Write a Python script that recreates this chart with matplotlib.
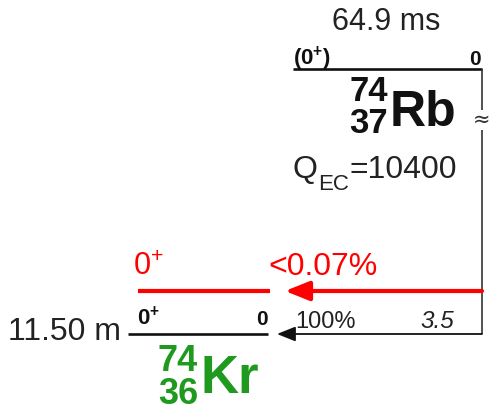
import matplotlib
matplotlib.use("Agg")
import matplotlib.pyplot as plt

plt.rcParams["font.family"] = ["Liberation Sans", "DejaVu Sans"]
plt.rcParams["mathtext.fontset"] = "custom"
plt.rcParams["mathtext.rm"] = "Liberation Sans"
plt.rcParams["mathtext.bf"] = "Liberation Sans:bold"
plt.rcParams["mathtext.it"] = "Liberation Sans:italic"

# ---- decay data: 74Rb -> 74Kr (EC / beta+) ----
parent_symbol = "Rb"
parent_A = 74
parent_Z = 37
parent_halflife = "64.9 ms"
parent_spin = "(0+)"
parent_level = "0"
q_ec = 10400

daughter_symbol = "Kr"
daughter_A = 74
daughter_Z = 36
daughter_halflife = "11.50 m"

# daughter levels, top to bottom
level_spins = ["0+", "0+"]
level_energies = ["", "0"]
branch_labels = ["<0.07%", "100%"]
logft_labels = ["", "3.5"]
level_colors = ["#ff0000", "#111111"]

# ---- layout (pixel frame of the 492x411 canvas) ----
W, H = 492, 411
TXT = "#222222"
GREEN = "#1f9a1f"
parent_y = 69
parent_x = (293, 482)
feed_x = 482
level_y = [291, 334]
level_x = [(138, 270), (128, 268)]
arrow_tip = [285, 277]

fig = plt.figure(figsize=(W / 100, H / 100), dpi=100)
ax = fig.add_axes([0, 0, 1, 1])
ax.set_xlim(0, W)
ax.set_ylim(H, 0)
ax.axis("off")
renderer = fig.canvas.get_renderer()


def sup_plus(s, bold=False):
    """Turn a spin like '0+' into mathtext with a raised sign."""
    if bold:
        return s.replace("+", r"$^{\mathbf{+}}$")
    return s.replace("+", r"$^{+}$")


def right_edge(t):
    """x position (data units) of a text's right edge."""
    bb = t.get_window_extent(renderer=renderer)
    return ax.transData.inverted().transform((bb.x1, bb.y0))[0]


# parent level
ax.plot(parent_x, [parent_y, parent_y], color="#111111", lw=1.9,
        solid_capstyle="butt")
ax.text(386, 30, parent_halflife, fontsize=22, color=TXT, ha="center",
        va="baseline")
ax.text(parent_x[0], 65, sup_plus(parent_spin, bold=True), fontsize=16,
        fontweight="bold", color="#111111", ha="left", va="baseline")
ax.text(parent_x[1] - 1, 65, parent_level, fontsize=15, fontweight="bold",
        color="#111111", ha="right", va="baseline")

# parent nuclide label
ax.text(388, 133, f"{parent_A}\n{parent_Z}", fontsize=25, fontweight="bold",
        color="#111111", ha="right", va="baseline", multialignment="right",
        linespacing=0.95)
ax.text(390, 126, parent_symbol, fontsize=36, fontweight="bold",
        color="#111111", ha="left", va="baseline")

# Q value with a lowered "EC" subscript
tq = ax.text(293, 178, "Q", fontsize=23, color=TXT, ha="left", va="baseline")
tsub = ax.text(right_edge(tq) + 0.5, 190, "EC", fontsize=16, color=TXT,
               ha="left", va="baseline")
ax.text(right_edge(tsub) + 0.5, 178, f"={q_ec}", fontsize=23, color=TXT,
        ha="left", va="baseline")

# feeding line from parent down the right side
ax.plot([feed_x, feed_x], [parent_y, level_y[1]], color="#333333", lw=1.2,
        solid_capstyle="butt")
ax.text(feed_x, 120, "≈", fontsize=15, color="#333333", ha="center",
        va="center", family="DejaVu Sans",
        bbox=dict(facecolor="white", edgecolor="none", pad=0.0))

# daughter levels and branches
for i in range(len(level_spins)):
    y = level_y[i]
    c = level_colors[i]
    x0, x1 = level_x[i]
    excited = i == 0
    ax.plot([x0, x1], [y, y], color=c, lw=3.0 if excited else 1.9,
            solid_capstyle="butt")
    style = ("-|>,head_length=1.05,head_width=0.42" if excited
             else "-|>,head_length=0.8,head_width=0.32")
    ax.annotate("", xy=(arrow_tip[i], y), xytext=(feed_x, y),
                arrowprops=dict(arrowstyle=style, color=c,
                                lw=3.0 if excited else 1.3,
                                shrinkA=0, shrinkB=0, mutation_scale=14))
    if excited:
        ax.text(133, 275, sup_plus(level_spins[i]), fontsize=22, color=c,
                ha="left", va="baseline")
        ax.text(268, 275, branch_labels[i], fontsize=23, color=c,
                ha="left", va="baseline")
    else:
        ax.text(137, 325, sup_plus(level_spins[i], bold=True), fontsize=16,
                fontweight="bold", color="#111111", ha="left", va="baseline")
        ax.text(x1, 325, level_energies[i], fontsize=15, fontweight="bold",
                color="#111111", ha="right", va="baseline")
        ax.text(295, 328, branch_labels[i], fontsize=17, color=TXT,
                ha="left", va="baseline")
        ax.text(420, 328, logft_labels[i], fontsize=17.5, color=TXT,
                style="italic", ha="left", va="baseline")

# daughter half-life and nuclide label
ax.text(8, 340, daughter_halflife, fontsize=23, color=TXT, ha="left",
        va="baseline")
ax.text(198, 404, f"{daughter_A}\n{daughter_Z}", fontsize=26,
        fontweight="bold", color=GREEN, ha="right", va="baseline",
        multialignment="right", linespacing=0.92)
ax.text(200, 393, daughter_symbol, fontsize=38, fontweight="bold",
        color=GREEN, ha="left", va="baseline")

fig.savefig("out.png", dpi=100, facecolor="white")
